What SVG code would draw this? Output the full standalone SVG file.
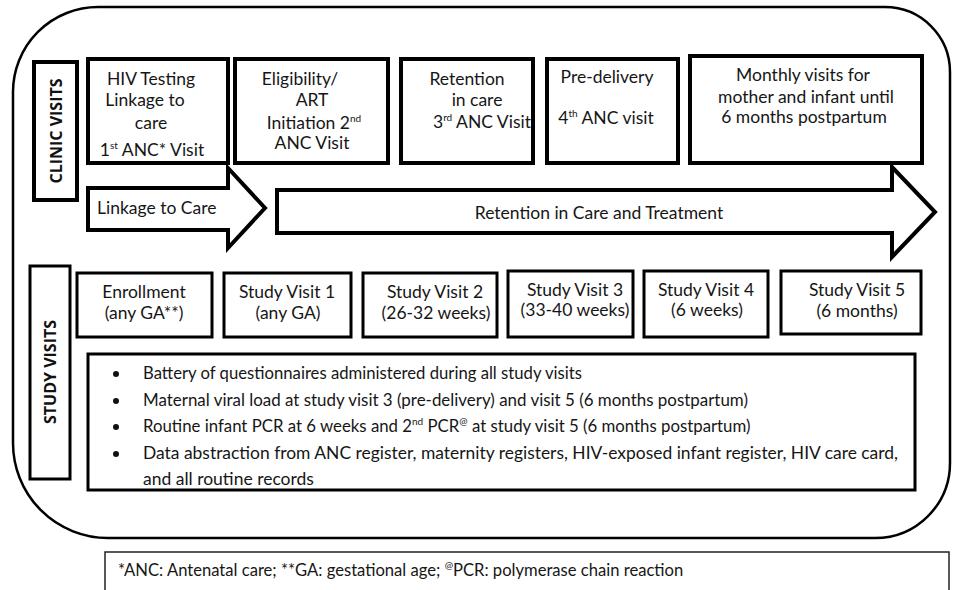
<svg xmlns="http://www.w3.org/2000/svg" width="954" height="590" viewBox="0 0 954 590">
<style>
.frame{fill:none;stroke:#000;stroke-width:2.5}
.box{fill:#fff;stroke:#000;stroke-width:4}
.sbox{fill:#fff;stroke:#000;stroke-width:3}
.arrow{fill:#fff;stroke:#000;stroke-width:4;stroke-linejoin:miter}
.t{font-family:Lato,"Open Sans","Liberation Sans",sans-serif;font-size:17.5px;fill:#161616;text-anchor:middle}
.l{font-family:Lato,"Open Sans","Liberation Sans",sans-serif;font-size:17.5px;fill:#161616}
.lab{font-family:"Open Sans",Lato,"Liberation Sans",sans-serif;font-size:16px;font-weight:bold;fill:#111;text-anchor:middle}
.sup{font-size:10px}
</style>
<rect width="954" height="590" fill="#fff"/>
<path class="frame" d="M98,7 H885 A65,65 0 0 1 950,72 V463 A75,75 0 0 1 875,538 H108 A95,95 0 0 1 13,443 V92 A85,85 0 0 1 98,7 Z"/>

<g id="clinic-visits-label">
<rect class="box" x="34" y="62" width="43" height="138"/>
<text class="lab" transform="translate(56,131) rotate(-90)" y="6">CLINIC VISITS</text>
</g>

<g id="clinic-1">
<rect class="box" x="88" y="59" width="140" height="104"/>
<text class="t" x="151" y="85">HIV Testing</text>
<text class="t" x="145" y="106">Linkage to</text>
<text class="t" x="151" y="129">care</text>
<text class="t" x="152" y="156">1<tspan class="sup" dy="-7">st</tspan><tspan dy="7"> ANC* Visit</tspan></text>
</g>

<g id="clinic-2">
<rect class="box" x="235" y="59" width="153" height="104"/>
<text class="t" x="300" y="85">Eligibility/</text>
<text class="t" x="312" y="106">ART</text>
<text class="t" x="314" y="129">Initiation 2<tspan class="sup" dy="-7">nd</tspan></text>
<text class="t" x="312" y="149">ANC Visit</text>
</g>

<g id="clinic-3">
<rect class="box" x="401" y="59" width="132" height="104"/>
<text class="t" x="467" y="85">Retention</text>
<text class="t" x="477" y="106">in care</text>
<text class="t" x="482" y="128">3<tspan class="sup" dy="-7">rd</tspan><tspan dy="7">  ANC Visit</tspan></text>
</g>

<g id="clinic-4">
<rect class="box" x="547" y="59" width="131" height="104"/>
<text class="t" x="607" y="83">Pre-delivery</text>
<text class="t" x="606" y="124">4<tspan class="sup" dy="-7">th</tspan><tspan dy="7"> ANC visit</tspan></text>
</g>

<g id="clinic-5">
<rect class="box" x="690" y="56" width="232" height="107"/>
<text class="t" x="803" y="81">Monthly visits for</text>
<text class="t" x="806" y="103">mother and infant until</text>
<text class="t" x="804" y="123">6 months  postpartum</text>
</g>

<g id="connectors">
<g id="arrow-linkage">
<path class="arrow" d="M88,188 H228 V168 L265,208 L228,248 V230 H88 Z"/>
<text class="l" x="97" y="214">Linkage to Care</text>
</g>
<g id="arrow-retention">
<path class="arrow" d="M277,190 H892 V167 L935,212 L892,257 V233 H277 Z"/>
<text class="t" x="599" y="219">Retention in Care and Treatment</text>
</g>
</g>

<g id="study-visits-label">
<rect class="sbox" x="30" y="266" width="40" height="213"/>
<text class="lab" transform="translate(50,372) rotate(-90)" y="6">STUDY VISITS</text>
</g>

<g id="study-enrollment">
<rect class="sbox" x="77" y="273" width="135" height="64"/>
<text class="t" x="144" y="298">Enrollment</text>
<text class="t" x="144" y="319">(any GA**)</text>
</g>
<g id="study-visit-1">
<rect class="sbox" x="224" y="273" width="127" height="64"/>
<text class="t" x="287" y="298">Study Visit 1</text>
<text class="t" x="288" y="319">(any GA)</text>
</g>
<g id="study-visit-2">
<rect class="sbox" x="363" y="273" width="134" height="64"/>
<text class="t" x="435" y="298">Study Visit 2</text>
<text class="t" x="436" y="319">(26-32 weeks)</text>
</g>
<g id="study-visit-3">
<rect class="sbox" x="508" y="271" width="125" height="66"/>
<text class="t" x="575" y="296">Study Visit 3</text>
<text class="t" x="575" y="316">(33-40 weeks)</text>
</g>
<g id="study-visit-4">
<rect class="sbox" x="644" y="271" width="124" height="66"/>
<text class="t" x="706" y="296">Study Visit 4</text>
<text class="t" x="707" y="316">(6 weeks)</text>
</g>
<g id="study-visit-5">
<rect class="sbox" x="781" y="271" width="140" height="63"/>
<text class="t" x="857" y="296">Study Visit 5</text>
<text class="t" x="857" y="317">(6 months)</text>
</g>

<g id="study-details">
<rect class="sbox" x="88" y="354" width="827" height="136"/>
<g class="l">
<circle cx="116" cy="374" r="3" fill="#111"/>
<circle cx="116" cy="401" r="3" fill="#111"/>
<circle cx="116" cy="427" r="3" fill="#111"/>
<circle cx="116" cy="454" r="3" fill="#111"/>
<text x="143" y="379" textLength="439" lengthAdjust="spacingAndGlyphs">Battery of questionnaires administered during all study visits</text>
<text x="143" y="406" textLength="605" lengthAdjust="spacingAndGlyphs">Maternal viral load  at study visit 3 (pre-delivery) and visit 5 (6 months postpartum)</text>
<text x="143" y="432" style="font-size:16.8px">Routine infant PCR at 6 weeks and 2<tspan class="sup" dy="-7">nd</tspan><tspan dy="7"> PCR</tspan><tspan class="sup" dy="-7">@</tspan><tspan dy="7"> at study visit 5 (6 months postpartum)</tspan></text>
<text x="143" y="459" textLength="755" lengthAdjust="spacingAndGlyphs">Data abstraction from ANC  register, maternity registers, HIV-exposed infant register, HIV care card,</text>
<text x="143" y="485">and all routine records</text>
</g>
</g>

<g id="footnote">
<rect x="105" y="552" width="844" height="50" fill="#fff" stroke="#222" stroke-width="1.5"/>
<text class="l" x="118" y="576" style="font-size:16.6px">*ANC: Antenatal care; **GA: gestational age; <tspan class="sup" dy="-7">@</tspan><tspan dy="7">PCR: polymerase chain reaction</tspan></text>
</g>
</svg>
